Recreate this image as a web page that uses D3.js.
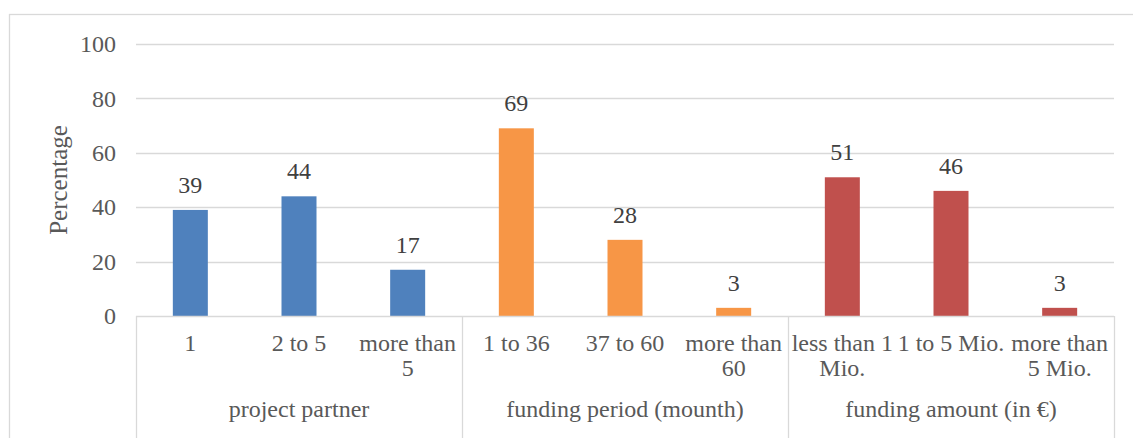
<!DOCTYPE html>
<html><head><meta charset="utf-8">
<script src="https://cdn.jsdelivr.net/npm/d3@7"></script>
<style>
html,body{margin:0;padding:0;background:#fff;}
svg text{font-family:"Liberation Serif","Times New Roman",serif !important;}
</style></head>
<body>
<script>
const groups = ["project partner", "funding period (mounth)", "funding amount (in €)"];
const categories = [
  ["1", "2 to 5", "more than 5"],
  ["1 to 36", "37 to 60", "more than 60"],
  ["less than 1 Mio.", "1 to 5 Mio.", "more than 5 Mio."]
];
const values = [
  [39, 44, 17],
  [69, 28, 3],
  [51, 46, 3]
];
const groupColors = ["#4F81BD", "#F79646", "#C0504D"];
const yTicks = [0, 20, 40, 60, 80, 100];
const yTitle = "Percentage";

const W = 1133, H = 438;
const mLeft = 136, mRight = 1114, mTop = 44, mBottom = 316;
const fs = 24;

const svg = d3.select("body").append("svg").attr("width", W).attr("height", H);

// chart border
svg.append("rect").attr("x", 9.5).attr("y", 14.5).attr("width", 1200).attr("height", 600)
  .attr("fill", "none").attr("stroke", "#D9D9D9").attr("stroke-width", 1.3);

const rows = [];
groups.forEach((g, gi) => categories[gi].forEach((c, ci) => rows.push({g, gi, c, v: values[gi][ci], key: gi + "|" + c})));

const x = d3.scaleBand().domain(rows.map(d => d.key)).range([mLeft, mRight]).paddingInner(0).paddingOuter(0);
const y = d3.scaleLinear().domain([0, 100]).range([mBottom, mTop]);

// gridlines
svg.append("g").selectAll("line").data(yTicks.filter(t => t > 0)).join("line")
  .attr("x1", mLeft).attr("x2", mRight)
  .attr("y1", d => Math.round(y(d)) + 0.5).attr("y2", d => Math.round(y(d)) + 0.5)
  .attr("stroke", "#D9D9D9").attr("stroke-width", 1.3);

// y axis labels
const yAxis = d3.axisLeft(y).tickValues(yTicks).tickSize(0).tickPadding(20);
const ya = svg.append("g").attr("transform", `translate(${mLeft},0)`).call(yAxis);
ya.select(".domain").remove();
ya.attr("font-size", fs);
ya.selectAll("text").attr("fill", "#595959");

// y title
svg.append("text").attr("transform", `translate(67,${(mTop + mBottom) / 2}) rotate(-90)`)
  .attr("text-anchor", "middle").attr("font-size", fs + 1).attr("fill", "#595959").text(yTitle);

// bars
const bw = 35;
svg.append("g").selectAll("rect").data(rows).join("rect")
  .attr("x", d => x(d.key) + x.bandwidth() / 2 - bw / 2)
  .attr("width", bw)
  .attr("y", d => y(d.v))
  .attr("height", d => y(0) - y(d.v))
  .attr("fill", d => groupColors[d.gi]);

// data labels
svg.append("g").selectAll("text").data(rows).join("text")
  .attr("x", d => x(d.key) + x.bandwidth() / 2)
  .attr("y", d => y(d.v) - 17)
  .attr("text-anchor", "middle").attr("font-size", fs).attr("fill", "#404040")
  .text(d => d.v);

// x axis baseline and separators
const axisColor = "#D9D9D9";
svg.append("line").attr("x1", mLeft).attr("x2", mRight).attr("y1", mBottom + 0.5).attr("y2", mBottom + 0.5)
  .attr("stroke", axisColor).attr("stroke-width", 1.3);
const sepX = [mLeft];
groups.forEach((g, gi) => {
  const last = rows.filter(r => r.gi === gi).slice(-1)[0];
  sepX.push(x(last.key) + x.bandwidth());
});
svg.append("g").selectAll("line").data(sepX).join("line")
  .attr("x1", d => Math.round(d) + 0.5).attr("x2", d => Math.round(d) + 0.5)
  .attr("y1", mBottom).attr("y2", H + 20)
  .attr("stroke", axisColor).attr("stroke-width", 1.3);

// category labels with wrapping
const catG = svg.append("g");
rows.forEach(d => {
  const cx = x(d.key) + x.bandwidth() / 2;
  const t = catG.append("text").attr("x", cx).attr("y", 351)
    .attr("text-anchor", "middle").attr("font-size", fs).attr("fill", "#595959");
  const words = d.c.split(" ");
  let line = [];
  let ts = t.append("tspan").attr("x", cx).attr("dy", 0);
  words.forEach(w => {
    line.push(w);
    ts.text(line.join(" "));
    if (ts.node().getComputedTextLength() > x.bandwidth() && line.length > 1) {
      line.pop();
      ts.text(line.join(" "));
      line = [w];
      ts = t.append("tspan").attr("x", cx).attr("dy", 25).text(w);
    }
  });
});

// group labels
svg.append("g").selectAll("text").data(groups).join("text")
  .attr("x", (d, i) => (sepX[i] + sepX[i + 1]) / 2)
  .attr("y", 417)
  .attr("text-anchor", "middle").attr("font-size", fs).attr("fill", "#595959")
  .text(d => d);
</script>
</body></html>
